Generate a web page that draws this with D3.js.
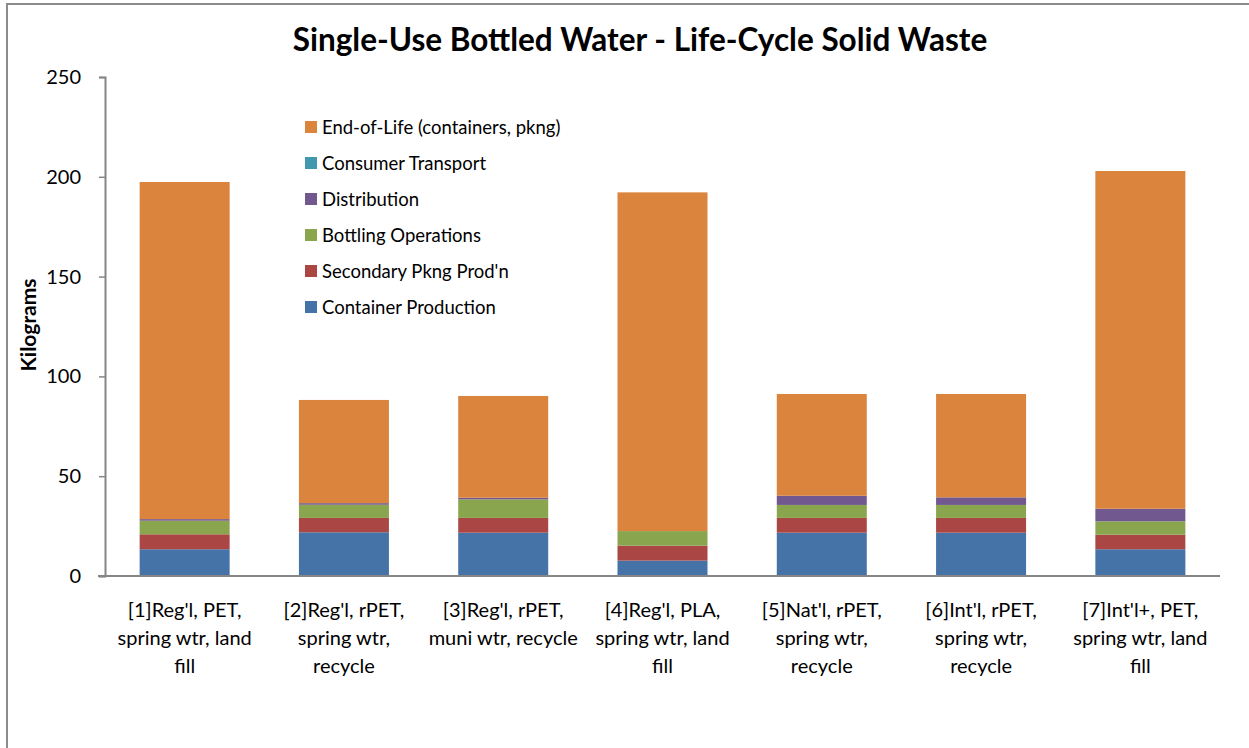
<!DOCTYPE html>
<html>
<head>
<meta charset="utf-8">
<script src="https://cdn.jsdelivr.net/npm/d3@7"></script>
<style>
  body { margin: 0; background: #fff; }
  text { font-family: Lato, 'Open Sans', sans-serif; fill: #000; }
</style>
</head>
<body>
<script>
// categories, one entry per bar (lines of the wrapped label)
const categories = [
  ["[1]Reg'l, PET,", 'spring wtr, land', 'fill'],
  ["[2]Reg'l, rPET,", 'spring wtr,', 'recycle'],
  ["[3]Reg'l, rPET,", 'muni wtr, recycle'],
  ["[4]Reg'l, PLA,", 'spring wtr, land', 'fill'],
  ["[5]Nat'l, rPET,", 'spring wtr,', 'recycle'],
  ["[6]Int'l, rPET,", 'spring wtr,', 'recycle'],
  ["[7]Int'l+, PET,", 'spring wtr, land', 'fill'],
]

const seriesNames = ['Container Production', "Secondary Pkng Prod'n", 'Bottling Operations', 'Distribution', 'Consumer Transport', 'End-of-Life (containers, pkng)']
const seriesColors = ['#4572A7', '#AA4643', '#89A54E', '#71588F', '#4198AF', '#DB843D']

const containerProd = [13.4, 21.9, 21.7, 7.7, 21.7, 21.7, 13.4]
const secondaryPkng = [7.5, 7.2, 7.4, 7.5, 7.4, 7.4, 7.3]
const bottlingOps = [6.8, 6.6, 9.3, 7.3, 6.5, 6.5, 6.7]
const distribution = [0.8, 0.8, 0.8, 0, 4.6, 3.8, 6.3]
const consumerTransport = [0, 0, 0, 0, 0, 0, 0]
const endOfLife = [168.9, 51.7, 51.0, 169.7, 51.0, 51.8, 169.2]

const yTicks = [0, 50, 100, 150, 200, 250]

const width = 1249
const height = 748

const seriesValues = [containerProd, secondaryPkng, bottlingOps, distribution, consumerTransport, endOfLife]
const rows = categories.map((c, i) => {
  const row = { idx: i }
  seriesNames.forEach((s, j) => { row[s] = seriesValues[j][i] })
  return row
})

const svg = d3.select('body').append('svg')
  .attr('width', width)
  .attr('height', height)

// chart border
svg.append('rect')
  .attr('x', 7).attr('y', 4)
  .attr('width', width + 10).attr('height', height + 10)
  .attr('fill', 'none')
  .attr('stroke', '#8c8c8c')
  .attr('stroke-width', 2)

const x = d3.scaleBand()
  .domain(d3.range(categories.length))
  .range([105, 1220])
  .paddingInner(0.435)
  .paddingOuter(0.2175)

const y = d3.scaleLinear().domain([0, 250]).range([576, 77])

const stack = d3.stack().keys(seriesNames)
const layers = stack(rows)

svg.append('g')
  .selectAll('g')
  .data(layers)
  .join('g')
  .attr('fill', (d, i) => seriesColors[i])
  .selectAll('rect')
  .data(d => d)
  .join('rect')
  .attr('x', d => x(d.data.idx))
  .attr('y', d => y(d[1]))
  .attr('width', x.bandwidth())
  .attr('height', d => Math.max(0, y(d[0]) - y(d[1])))

// y axis
const yAxis = svg.append('g')
  .attr('transform', 'translate(105,0)')
  .call(d3.axisLeft(y).tickValues(yTicks).tickSize(6).tickPadding(18).tickSizeOuter(6))
yAxis.select('.domain').attr('stroke', '#868686').attr('stroke-width', 2)
yAxis.selectAll('.tick line').attr('stroke', '#868686').attr('stroke-width', 1.5)
yAxis.selectAll('.tick text')
  .attr('font-size', 20)
  .attr('font-family', 'Lato, sans-serif')
  .attr('fill', '#000')

// x axis line
svg.append('line')
  .attr('x1', 98).attr('x2', 1220)
  .attr('y1', y(0)).attr('y2', y(0))
  .attr('stroke', '#868686')
  .attr('stroke-width', 2)

// x labels
svg.append('g')
  .selectAll('text')
  .data(categories)
  .join('text')
  .attr('text-anchor', 'middle')
  .attr('font-size', 20)
  .attr('transform', (d, i) => `translate(${x(i) + x.bandwidth() / 2}, 617)`)
  .selectAll('tspan')
  .data(d => d)
  .join('tspan')
  .attr('x', 0)
  .attr('dy', (d, i) => i === 0 ? 0 : 28)
  .text(d => d)

// title
svg.append('text')
  .attr('x', 640).attr('y', 51)
  .attr('text-anchor', 'middle')
  .attr('font-size', 31.5)
  .attr('font-weight', 'bold')
  .text('Single-Use Bottled Water - Life-Cycle Solid Waste')

// y title
svg.append('text')
  .attr('transform', 'translate(36,325) rotate(-90)')
  .attr('text-anchor', 'middle')
  .attr('font-size', 21)
  .attr('font-weight', 'bold')
  .text('Kilograms')

// legend, top entry is the last series
const legend = svg.append('g')
  .selectAll('g')
  .data(seriesNames.slice().reverse())
  .join('g')
  .attr('transform', (d, i) => `translate(305, ${127 + i * 36})`)
legend.append('rect')
  .attr('x', 0).attr('y', -6)
  .attr('width', 12).attr('height', 12)
  .attr('fill', d => seriesColors[seriesNames.indexOf(d)])
legend.append('text')
  .attr('x', 17).attr('y', 6.5)
  .attr('font-size', 18.5)
  .text(d => d)
</script>
</body>
</html>
